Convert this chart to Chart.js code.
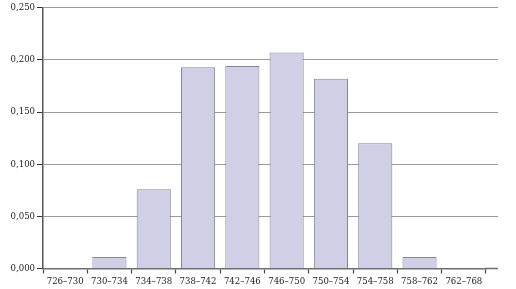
<!DOCTYPE html>
<html>
<head>
<meta charset="utf-8">
<script src="https://cdn.jsdelivr.net/npm/chart.js@4/dist/chart.umd.min.js"></script>
<style>
  html, body { margin: 0; padding: 0; background: #fff; }
  canvas { display: block; }
</style>
</head>
<body>
<canvas id="c" width="516" height="289"></canvas>
<script>
// intervals and relative frequencies
const categories = ['726–730', '730–734', '734–738', '738–742', '742–746', '746–750', '750–754', '754–758', '758–762', '762–768'];
const frequencies = [0, 0.011, 0.076, 0.193, 0.194, 0.207, 0.182, 0.120, 0.011, 0];
const yTicks = [0, 0.05, 0.10, 0.15, 0.20, 0.25];

const FONT = { family: '"DejaVu Serif Condensed", "DejaVu Serif", serif', size: 9.5 };
const EXTRA = 12; // grid/axis run on a bit past the last category

// same half-pixel snapping Chart.js uses for 1px lines
const snap = (p, w) => Math.round(p - w / 2) + w / 2;

// lengthen horizontal grid lines and base line beyond the last category
const extendGrid = {
  id: 'extendGrid',
  beforeDatasetsDraw(chart) {
    const { ctx, chartArea, scales } = chart;
    ctx.save();
    ctx.lineWidth = 1;
    ctx.strokeStyle = '#9a9a9a';
    yTicks.forEach(v => {
      if (v === 0) return;
      const y = snap(scales.y.getPixelForValue(v), 1);
      ctx.beginPath();
      ctx.moveTo(chartArea.right - 1, y);
      ctx.lineTo(chartArea.right + EXTRA, y);
      ctx.stroke();
    });
    const y0 = scales.y.getPixelForValue(0);
    ctx.strokeStyle = '#6f6f6f';
    ctx.lineWidth = 1.5;
    ctx.beginPath();
    ctx.moveTo(chartArea.right - 1, y0);
    ctx.lineTo(chartArea.right + EXTRA, y0);
    ctx.stroke();
    ctx.restore();
  }
};

new Chart(document.getElementById('c'), {
  type: 'bar',
  data: {
    labels: categories,
    datasets: [{
      data: frequencies,
      backgroundColor: '#d0cfe5',
      borderColor: '#85859a',
      borderWidth: 1,
      barPercentage: 0.77,
      categoryPercentage: 1
    }]
  },
  options: {
    responsive: false,
    animation: false,
    layout: { padding: { top: 4, right: 30, left: 0, bottom: 0 } },
    plugins: { legend: { display: false }, tooltip: { enabled: false } },
    scales: {
      x: {
        offset: true,
        grid: { offset: true, drawOnChartArea: false, drawTicks: true, tickLength: 5, tickColor: '#444', tickWidth: 1.2 },
        border: { display: true, color: '#6f6f6f', width: 1.5 },
        ticks: { font: FONT, color: '#222', padding: 2, maxRotation: 0, autoSkip: false },
        afterFit: s => { s.height = 20.5; }
      },
      y: {
        min: 0,
        max: 0.25,
        afterBuildTicks: s => { s.ticks = yTicks.map(v => ({ value: v })); },
        grid: { color: '#9a9a9a', lineWidth: 1, drawTicks: true, tickLength: 6, tickColor: '#333' },
        border: { display: true, color: '#555', width: 1.5 },
        ticks: {
          font: FONT,
          color: '#222',
          padding: 2,
          callback: v => v.toFixed(3).replace('.', ',')
        },
        afterFit: s => { s.width = 43; }
      }
    }
  },
  plugins: [extendGrid]
});
</script>
</body>
</html>
